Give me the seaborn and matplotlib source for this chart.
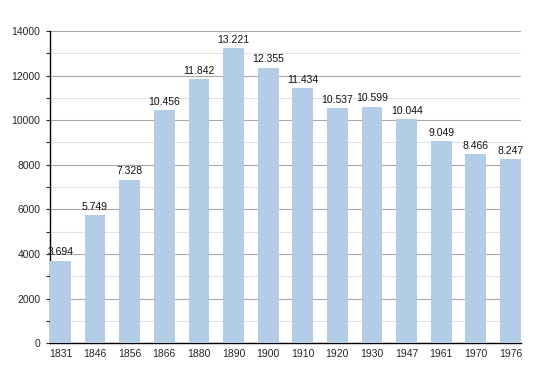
import matplotlib
matplotlib.use("Agg")
import matplotlib.pyplot as plt
import seaborn as sns
import pandas as pd
from matplotlib.ticker import MultipleLocator

years = ["1831", "1846", "1856", "1866", "1880", "1890", "1900",
         "1910", "1920", "1930", "1947", "1961", "1970", "1976"]
population = [3694, 5749, 7328, 10456, 11842, 13221, 12355,
              11434, 10537, 10599, 10044, 9049, 8466, 8247]
labels = ["3.694", "5.749", "7.328", "10.456", "11.842", "13.221", "12.355",
          "11.434", "10.537", "10.599", "10.044", "9.049", "8.466", "8.247"]

df = pd.DataFrame({"year": years, "pop": population})

sns.set_style("white")
plt.rcParams["font.family"] = ["Liberation Sans", "DejaVu Sans"]

fig = plt.figure(figsize=(5.5, 3.73), dpi=100)
ax = fig.add_axes([0.091, 0.080, 0.856, 0.837])

sns.barplot(data=df, x="year", y="pop", color="#b3cde6", saturation=1,
            width=0.6, linewidth=0, ax=ax, zorder=3)

for i, (v, t) in enumerate(zip(population, labels)):
    ax.text(i, v + 150, t, ha="center", va="bottom", fontsize=7.5, color="#111111", zorder=4)

ax.set_xlim(-0.3, 13.3)
ax.set_ylim(0, 14000)
ax.yaxis.set_major_locator(MultipleLocator(2000))
ax.yaxis.set_minor_locator(MultipleLocator(1000))
ax.grid(axis="y", which="major", color="#a8a8a8", linewidth=0.8, zorder=0)
ax.grid(axis="y", which="minor", color="#e2e2e2", linewidth=0.8, zorder=0)
ax.set_axisbelow(True)

for s in ["top", "right"]:
    ax.spines[s].set_visible(False)
ax.spines["left"].set_color("black")
ax.spines["bottom"].set_color("black")
ax.spines["left"].set_linewidth(1)
ax.spines["bottom"].set_linewidth(1)

ax.tick_params(axis="y", which="major", left=True, length=3, width=0.8, labelsize=7.5, pad=4)
ax.tick_params(axis="y", which="minor", left=True, length=3, width=0.8)
ax.tick_params(axis="x", bottom=False, labelsize=7.5, pad=1)
ax.set_xlabel("")
ax.set_ylabel("")

fig.savefig("out.png", dpi=100)
